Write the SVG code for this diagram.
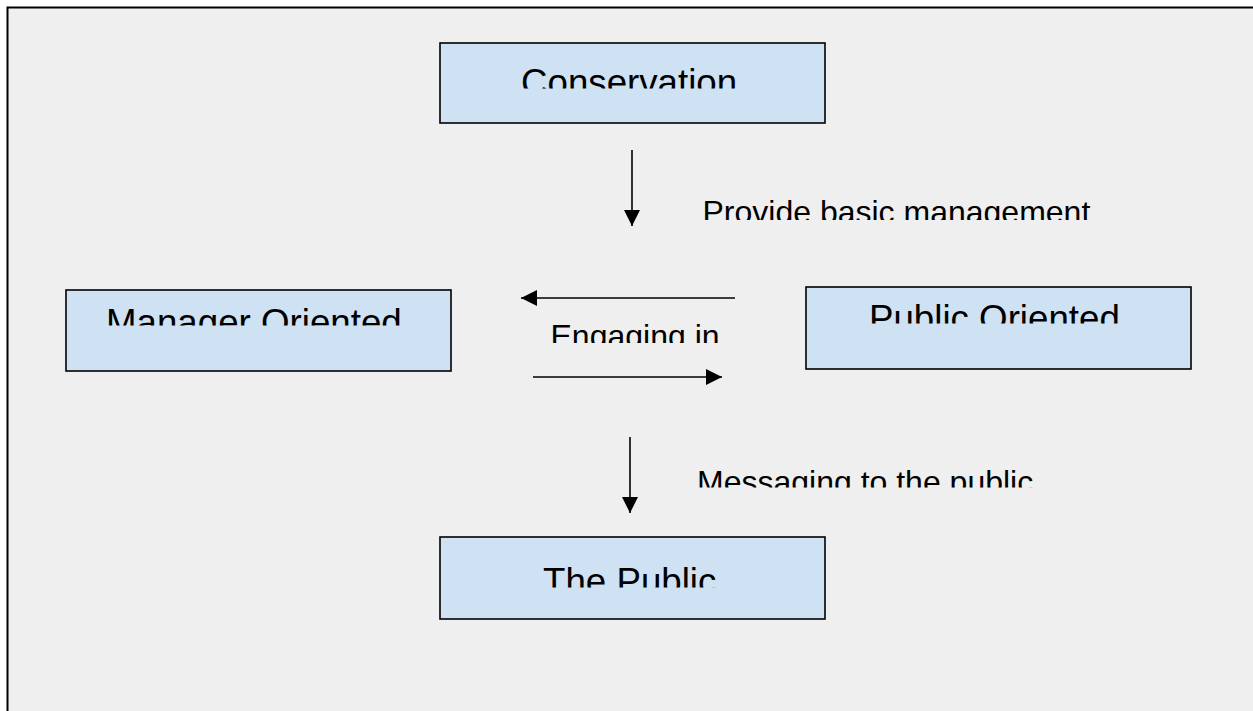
<svg xmlns="http://www.w3.org/2000/svg" width="1253" height="711" viewBox="0 0 1253 711">
<style>
.box{fill:#cfe2f3;stroke:#000;stroke-width:1.6}
.t{font-family:"Liberation Sans",Arial,sans-serif;fill:#000}
.big{font-size:36.7px}
.lab{font-size:32px}
.con{stroke:#000;stroke-width:1.6;fill:none}
</style>
<defs>
<marker id="ah" markerUnits="userSpaceOnUse" markerWidth="16" markerHeight="16" viewBox="0 0 16 16" refX="16" refY="8" orient="auto">
<path d="M0,0 L16,8 L0,16 Z" fill="#000"/>
</marker>
<clipPath id="c1"><rect x="0" y="0" width="1253" height="88.5"/></clipPath>
<clipPath id="c2"><rect x="0" y="0" width="1253" height="220"/></clipPath>
<clipPath id="c3"><rect x="0" y="0" width="1253" height="325.5"/></clipPath>
<clipPath id="c4"><rect x="0" y="0" width="1253" height="323.5"/></clipPath>
<clipPath id="c5"><rect x="0" y="0" width="1253" height="343"/></clipPath>
<clipPath id="c6"><rect x="0" y="0" width="1253" height="487.5"/></clipPath>
<clipPath id="c7"><rect x="0" y="0" width="1253" height="587.5"/></clipPath>
</defs>
<rect x="0" y="0" width="1253" height="711" fill="#fff"/>
<rect x="7.5" y="7.5" width="1300" height="800" fill="#efefef" stroke="#000" stroke-width="2"/>

<g id="node-conservation">
<rect class="box" x="440" y="43" width="385" height="80"/>
<text class="t big" x="521" y="94.5" clip-path="url(#c1)">Conservation</text>
</g>
<g id="node-manager">
<rect class="box" x="66" y="290" width="385" height="81"/>
<text class="t big" x="106" y="334.5" clip-path="url(#c3)">Manager Oriented</text>
</g>
<g id="node-public-oriented">
<rect class="box" x="806" y="287" width="385" height="82"/>
<text class="t big" x="869" y="330.5" clip-path="url(#c4)">Public Oriented</text>
</g>
<g id="node-the-public">
<rect class="box" x="440" y="537" width="385" height="82"/>
<text class="t big" x="543" y="593.5" clip-path="url(#c7)">The Public</text>
</g>

<g id="connectors">
<line class="con" x1="632" y1="150" x2="632" y2="226" marker-end="url(#ah)"/>
<line class="con" x1="735" y1="298" x2="521" y2="298" marker-end="url(#ah)"/>
<line class="con" x1="533" y1="377" x2="722" y2="377" marker-end="url(#ah)"/>
<line class="con" x1="630" y1="437" x2="630" y2="513" marker-end="url(#ah)"/>
<text class="t lab" x="702.5" y="223" clip-path="url(#c2)">Provide basic management</text>
<text class="t lab" x="550.5" y="347" clip-path="url(#c5)">Engaging in</text>
<text class="t lab" x="697" y="493" clip-path="url(#c6)">Messaging to the public</text>
</g>
</svg>
